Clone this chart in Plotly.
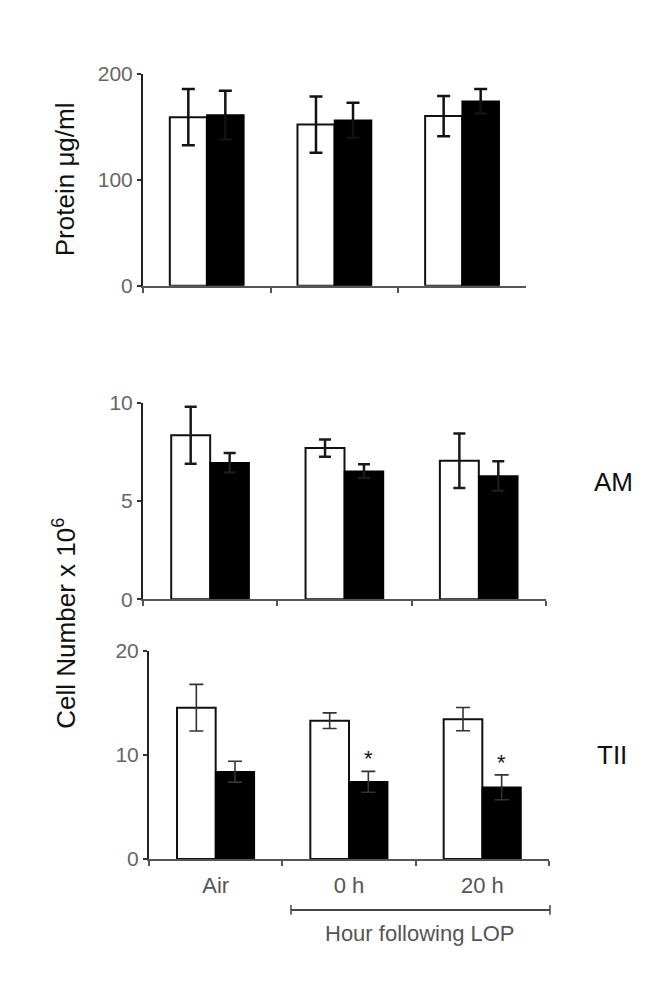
import plotly.graph_objects as go

# ---------------- data ----------------
categories = ["Air", "0 h", "20 h"]

protein_white = [159, 152, 160]
protein_white_err = [26.5, 26.5, 19]
protein_black = [161, 156, 174]
protein_black_err = [23, 16.5, 11.5]

am_white = [8.35, 7.7, 7.05]
am_white_err = [1.45, 0.44, 1.39]
am_black = [6.95, 6.52, 6.28]
am_black_err = [0.5, 0.35, 0.75]

tii_white = [14.55, 13.3, 13.45]
tii_white_err = [2.24, 0.75, 1.12]
tii_black = [8.4, 7.43, 6.9]
tii_black_err = [1.0, 1.0, 1.19]

significant = [False, True, True]  # stars over black TII bars

FONT = "Liberation Sans, Arial, Helvetica, sans-serif"
W, H = 663, 992

fig = go.Figure()

panels = [
    ("x", "y", protein_white, protein_white_err, protein_black, protein_black_err, 2.5, 6.5, "#111"),
    ("x2", "y2", am_white, am_white_err, am_black, am_black_err, 2.5, 6, "#1a1a1a"),
    ("x3", "y3", tii_white, tii_white_err, tii_black, tii_black_err, 1.6, 7, "#333"),
]

for xa, ya, wv, we, bv, be, th, cw, ec in panels:
    fig.add_trace(go.Bar(
        x=categories, y=wv, xaxis=xa, yaxis=ya,
        marker=dict(color="white", line=dict(color="#111", width=2)),
        error_y=dict(type="data", array=we, visible=True, color=ec, thickness=th, width=cw),
        showlegend=False,
    ))
    fig.add_trace(go.Bar(
        x=categories, y=bv, xaxis=xa, yaxis=ya,
        marker=dict(color="black", line=dict(color="black", width=1.5)),
        error_y=dict(type="data", array=be, visible=True, color=ec, thickness=th, width=cw),
        showlegend=False,
    ))

def px_x(p):
    return p / W

def px_y(p):
    return 1 - p / H

xcommon = dict(
    type="category", range=[-0.5, 2.5], tickson="boundaries", ticks="outside",
    ticklen=5, tickwidth=1.5, tickcolor="#555", showline=True, linecolor="#555",
    linewidth=2, showgrid=False, zeroline=False, fixedrange=True,
    tickfont=dict(family=FONT, size=22, color="#555"),
)
ycommon = dict(
    ticks="outside", ticklen=4, tickwidth=1.5, tickcolor="#333", showline=True,
    linecolor="#222", linewidth=2, showgrid=False, zeroline=False,
    tickfont=dict(family=FONT, size=21, color="#666"),
)

fig.update_layout(
    width=W, height=H, margin=dict(l=0, r=0, t=0, b=0),
    paper_bgcolor="white", plot_bgcolor="white",
    barmode="group", bargap=0.42, bargroupgap=0,
    xaxis=dict(xcommon, domain=[px_x(135), px_x(518)], anchor="y", showticklabels=False),
    yaxis=dict(ycommon, domain=[px_y(272), px_y(55)], anchor="x", range=[0, 200],
               tickvals=[0, 100, 200]),
    xaxis2=dict(xcommon, domain=[px_x(135), px_x(538)], anchor="y2", showticklabels=False),
    yaxis2=dict(ycommon, domain=[px_y(593), px_y(392)], anchor="x2", range=[0, 10],
                tickvals=[0, 5, 10]),
    xaxis3=dict(xcommon, domain=[px_x(141), px_x(541)], anchor="y3", ticklabelstandoff=6),
    yaxis3=dict(ycommon, domain=[px_y(859), px_y(646)], anchor="x3", range=[0, 20],
                tickvals=[0, 10, 20]),
)

def label(text, x, y, size, color="#111", angle=0):
    return dict(text=text, x=px_x(x), y=px_y(y), xref="paper", yref="paper",
                xanchor="center", yanchor="middle", textangle=angle, showarrow=False,
                font=dict(family=FONT, size=size, color=color))

annotations = [
    label("Protein μg/ml", 57, 163, 26, angle=-90),
    label("Cell Number x 10<sup>6</sup>", 57, 618, 26, angle=-90),
    label("AM", 605, 473, 26),
    label("TII", 604, 752, 26),
    label("Hour following LOP", 412, 935, 22, color="#555"),
]

# significance stars above the black TII bars
half = (1 - 0.42) / 4
for i, sig in enumerate(significant):
    if sig:
        annotations.append(dict(
            text="*", x=i + half, y=tii_black[i] + tii_black_err[i], xref="x3", yref="y3",
            xanchor="center", yanchor="bottom", yshift=-2, showarrow=False,
            font=dict(family=FONT, size=22, color="#111"),
        ))

fig.update_layout(annotations=annotations)

# bracket under the LOP time points
by = px_y(911)
bx0, bx1 = px_x(283), px_x(542)
tick = 5 / H
shapes = [
    dict(type="line", xref="paper", yref="paper", x0=bx0, x1=bx1, y0=by, y1=by,
         line=dict(color="#444", width=2)),
    dict(type="line", xref="paper", yref="paper", x0=bx0, x1=bx0, y0=by - tick, y1=by + tick,
         line=dict(color="#444", width=1.5)),
    dict(type="line", xref="paper", yref="paper", x0=bx1, x1=bx1, y0=by - tick, y1=by + tick,
         line=dict(color="#444", width=1.5)),
]
fig.update_layout(shapes=shapes)

fig.write_html("out.html")
